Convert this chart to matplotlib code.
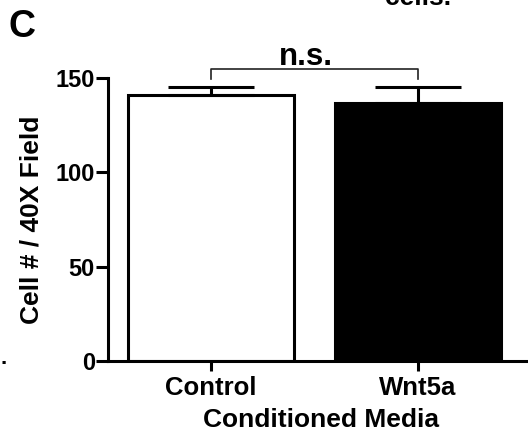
import matplotlib
matplotlib.use("Agg")
import matplotlib.pyplot as plt

plt.rcParams['font.family'] = ['Liberation Sans', 'DejaVu Sans']
plt.rcParams['font.weight'] = 'bold'

categories = ["Control", "Wnt5a"]
means = [141, 137]
errors = [4, 8]
bar_colors = ["white", "black"]
yticks = [0, 50, 100, 150]
sig_label = "n.s."
sig_height = 155
sig_drop = 149.5

fig = plt.figure(figsize=(5.28, 4.40), dpi=100)
ax = fig.add_axes([108/528, 79/440, 1 - 108/528 + 0.01, (361-78)/440])

x = range(len(categories))
ax.bar(x, means, width=0.8, color=bar_colors, edgecolor="black", linewidth=2.2, zorder=2)
for xi, m, e in zip(x, means, errors):
    ax.errorbar([xi], [m], yerr=[[0], [e]], fmt="none", ecolor="black",
                elinewidth=2.2, capsize=31, capthick=2.2, zorder=3, clip_on=False)

ax.set_xlim(-0.495, 1.555)
ax.set_ylim(0, 150)
ax.set_yticks(yticks)
ax.set_xticks(list(x))
ax.set_xticklabels(categories, fontsize=18.5, fontweight='bold')
ax.tick_params(axis='y', labelsize=17, width=2.2, length=8.5, pad=1)
ax.tick_params(axis='x', width=2.2, length=7.5, pad=3)
for t in ax.get_yticklabels():
    t.set_fontweight('bold')

for s in ["top", "right"]:
    ax.spines[s].set_visible(False)
for s in ["left", "bottom"]:
    ax.spines[s].set_linewidth(2.2)

ax.set_ylabel("Cell # / 40X Field", fontsize=19, fontweight='bold')
ax.yaxis.set_label_coords(-(108 - 44) / (528 - 108 + 5.28), 0.5)
ax.set_xlabel("Conditioned Media", fontsize=19, fontweight='bold', labelpad=6)

# significance bracket
ax.plot([0, 0, 1, 1], [sig_drop, sig_height, sig_height, sig_drop], color="#222222",
        linewidth=1.2, clip_on=False, zorder=4)
ax.text(0.46, sig_height + 2, sig_label, ha="center", va="baseline", fontsize=22.5,
        fontweight='bold', clip_on=False)

fig.text(9/528, 1 - 37/440, "C", fontsize=27, fontweight='bold', ha="left", va="baseline")
fig.text(418/528, 1 - 5/440, "cells.", fontsize=19, fontweight='bold', ha="center", va="baseline")
fig.text(0/528, 1 - 364/440, ".", fontsize=16, fontweight='bold', ha="left", va="baseline")

fig.savefig("out.png", dpi=100)
